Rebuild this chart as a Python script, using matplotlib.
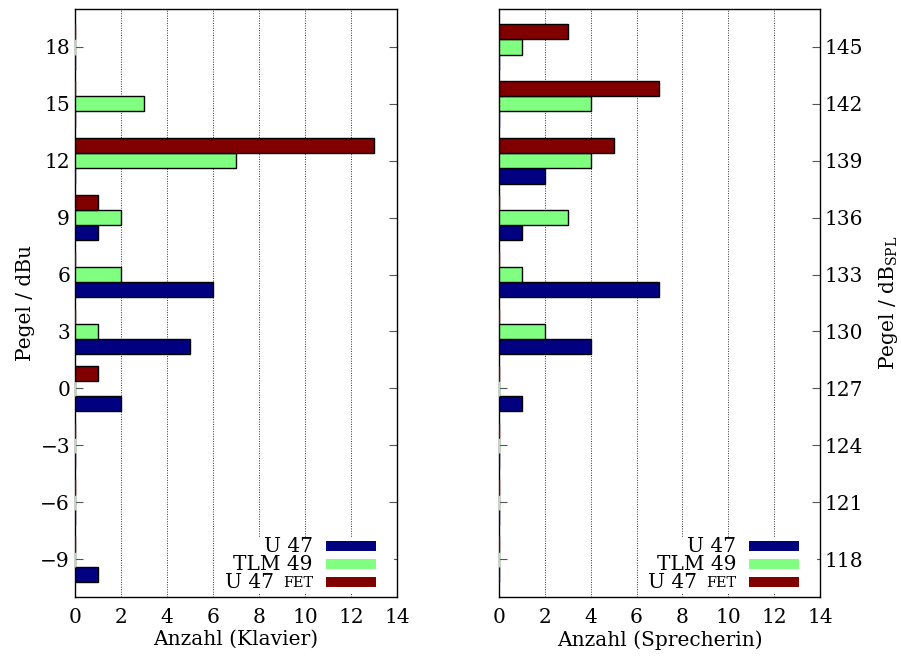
import numpy as np
import matplotlib
matplotlib.use("Agg")
import matplotlib.pyplot as plt
from matplotlib.patches import Rectangle

plt.rcParams['font.family'] = ['DejaVu Serif']
plt.rcParams['mathtext.fontset'] = 'dejavuserif'

# Pegel-Stufen
pegel_dbu = [-9, -6, -3, 0, 3, 6, 9, 12, 15, 18]
pegel_spl = [118, 121, 124, 127, 130, 133, 136, 139, 142, 145]

# Anzahl Klavier
klavier_u47 = [1, 0, 0, 2, 5, 6, 1, 0, 0, 0]
klavier_tlm49 = [0, 0, 0, 0, 1, 2, 2, 7, 3, 0]
klavier_u47fet = [0, 0, 0, 1, 0, 0, 1, 13, 0, 0]

# Anzahl Sprecherin
sprech_u47 = [0, 0, 0, 1, 4, 7, 1, 2, 0, 0]
sprech_tlm49 = [0, 0, 0, 0, 2, 1, 3, 4, 4, 1]
sprech_u47fet = [0, 0, 0, 0, 0, 0, 0, 5, 7, 3]

labels = ["U 47", "TLM 49", "U 47"]
colors = ["#000080", "#80ff80", "#800000"]
fs = 14.5


def panel(ax, y, series, ylim):
    y = np.array(y, dtype=float)
    for k, (vals, col) in enumerate(zip(series, colors)):
        off = (k - 1) * 0.8
        ec = ["black" if v > 0 else col for v in vals]
        ax.barh(y + off, vals, height=0.8, color=col, edgecolor=ec,
                linewidth=1.0, zorder=3)
    ax.set_xlim(0, 14)
    ax.set_ylim(*ylim)
    ax.set_xticks(range(0, 15, 2))
    ax.set_yticks(y)
    ax.grid(axis='x', linestyle=(0, (1, 1.5)), color='#333333', linewidth=0.7, zorder=1)
    ax.tick_params(axis='x', length=0, labelsize=fs, pad=8)
    ax.tick_params(axis='y', direction='in', length=6, color='#555555',
                   left=True, right=True, labelsize=fs)
    for s in ax.spines.values():
        s.set_linewidth(1.0)

    # Legende
    ax.add_patch(Rectangle((0.49, 0.005), 0.5, 0.097, transform=ax.transAxes,
                           facecolor='white', edgecolor='none', zorder=4))
    ys = [0.0867, 0.056, 0.0255]
    for lab, col, yy in zip(labels, colors, ys):
        ax.add_patch(Rectangle((0.78, yy - 0.009), 0.155, 0.018, transform=ax.transAxes,
                               facecolor=col, edgecolor='none', zorder=5))
    ax.text(0.739, ys[0], "U 47", transform=ax.transAxes, ha='right', va='center',
            fontsize=fs, zorder=6)
    ax.text(0.739, ys[1], "TLM 49", transform=ax.transAxes, ha='right', va='center',
            fontsize=fs, zorder=6)
    ax.text(0.739, ys[2] - 0.002, "FET", transform=ax.transAxes, ha='right', va='center',
            fontsize=fs * 0.72, zorder=6)
    ax.text(0.617, ys[2], "U 47", transform=ax.transAxes, ha='right', va='center',
            fontsize=fs, zorder=6)


fig = plt.figure(figsize=(9.01, 6.56), dpi=100)
ax1 = fig.add_axes([0.0832, 0.0899, 0.3574, 0.8963])
ax2 = fig.add_axes([0.5538, 0.0899, 0.3563, 0.8963])

panel(ax1, pegel_dbu, [klavier_u47, klavier_tlm49, klavier_u47fet], (-11, 20))
ax1.set_yticklabels([str(v).replace('-', '\u2212') for v in pegel_dbu])
ax1.set_xlabel("Anzahl (Klavier)", fontsize=fs, labelpad=2)
ax1.set_ylabel("Pegel / dBu", fontsize=fs, labelpad=4)

panel(ax2, pegel_spl, [sprech_u47, sprech_tlm49, sprech_u47fet], (116, 147))
ax2.tick_params(axis='y', labelleft=False, labelright=True)
ax2.set_xlabel("Anzahl (Sprecherin)", fontsize=fs, labelpad=2)
ax2.yaxis.set_label_position('right')
ax2.set_ylabel(r"Pegel / dB$_{\mathregular{SPL}}$", fontsize=fs, labelpad=10)

fig.savefig("out.png", dpi=100)
